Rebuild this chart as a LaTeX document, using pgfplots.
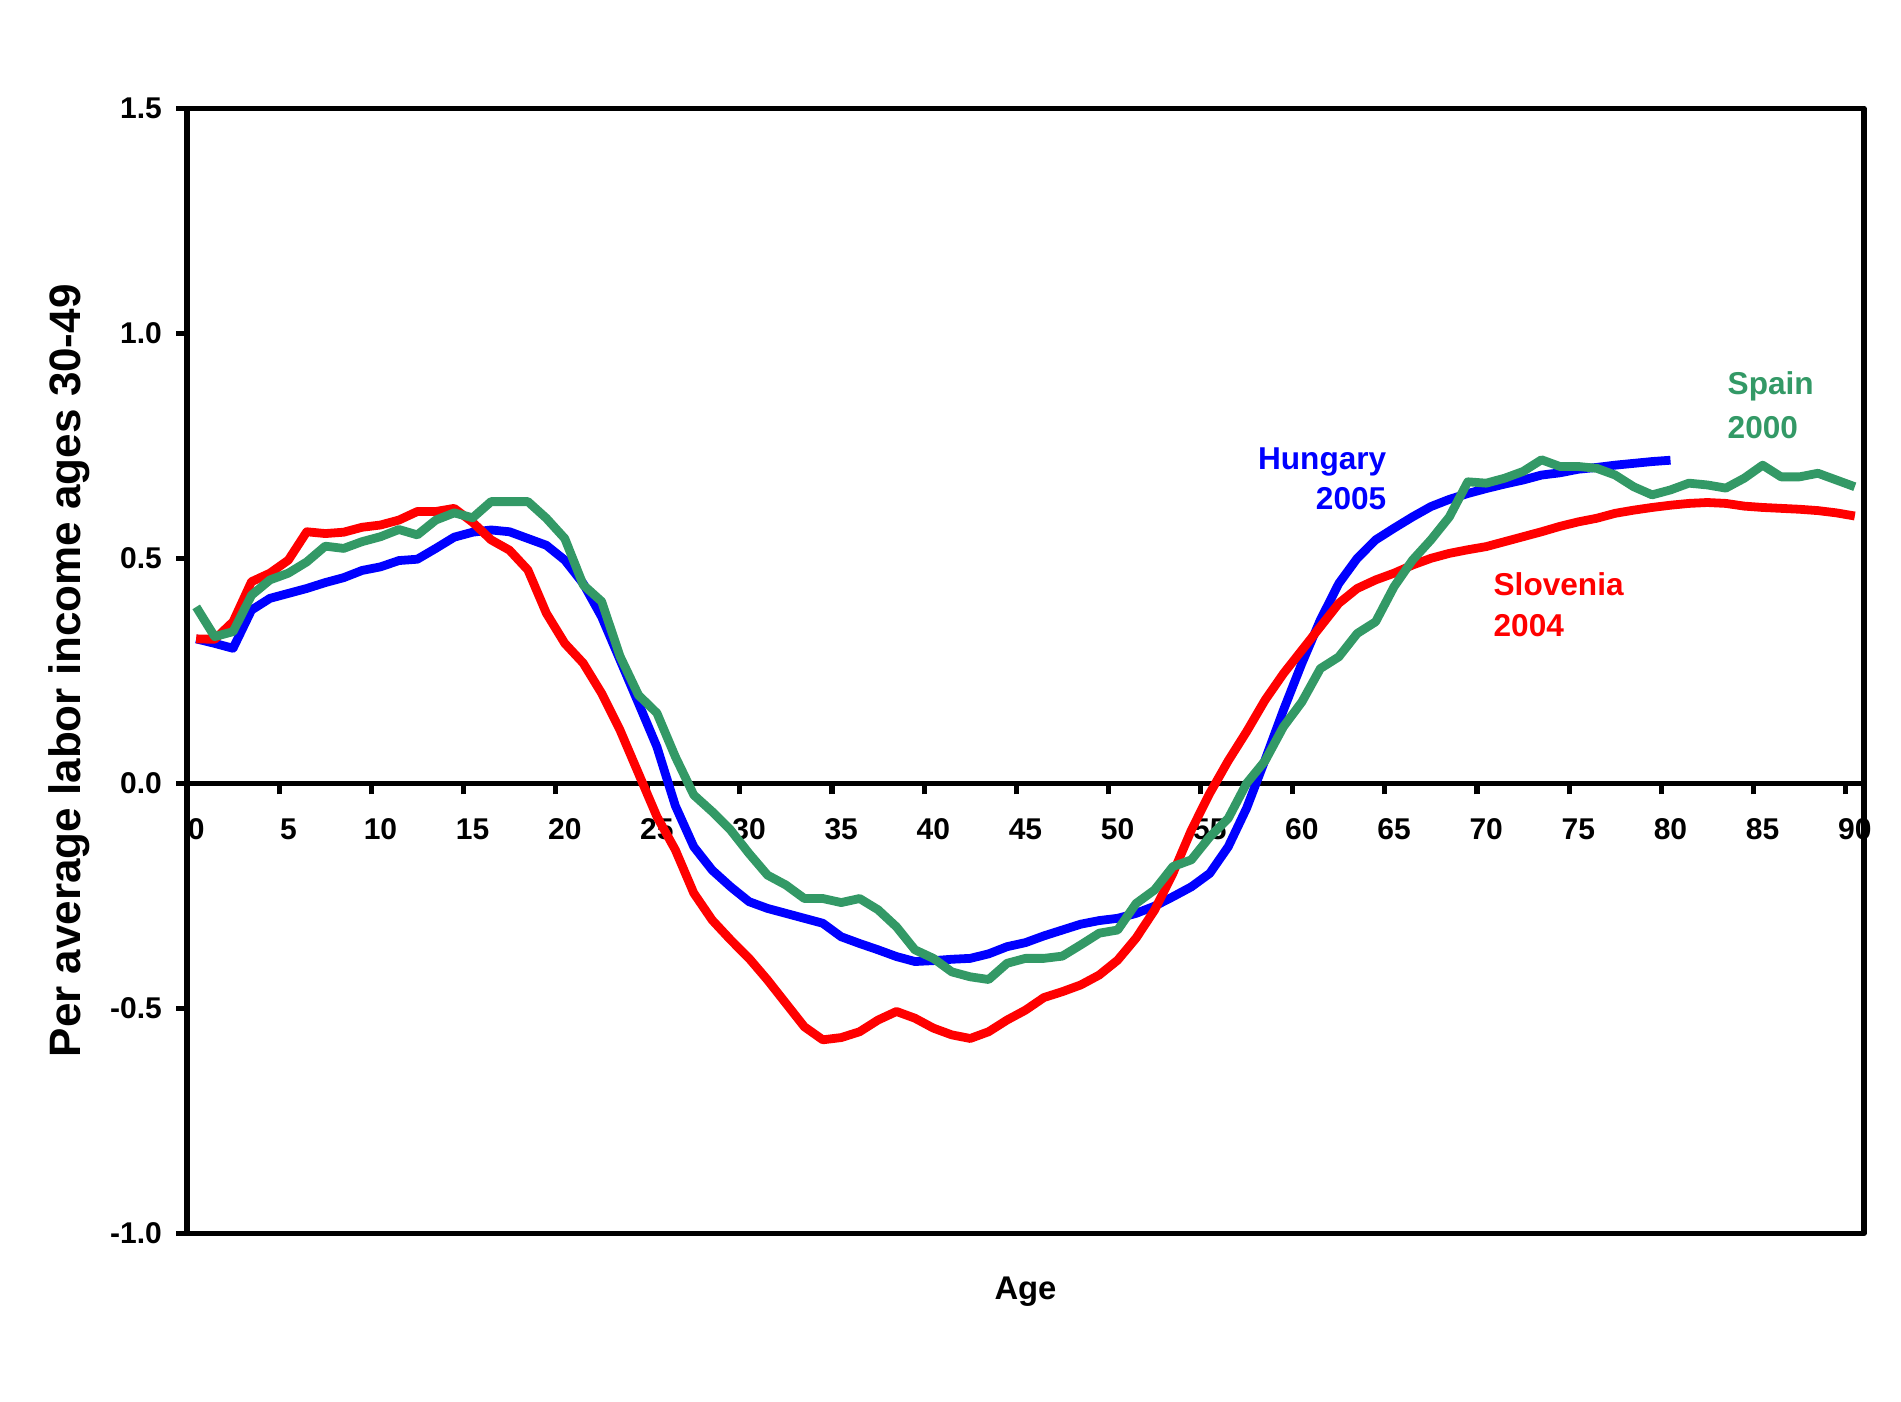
\documentclass[border=0pt]{standalone}
\usepackage{pgfplots}
\pgfplotsset{compat=1.18}
\usepackage{fontspec}
\setmainfont{Liberation Sans}
\definecolor{hun}{RGB}{0,0,255}
\definecolor{slo}{RGB}{255,0,0}
\definecolor{spa}{RGB}{51,153,102}

\pgfplotstableread{
age val
0 0.321
1 0.311
2 0.300
3 0.385
4 0.411
5 0.422
6 0.433
7 0.446
8 0.457
9 0.473
10 0.481
11 0.495
12 0.498
13 0.522
14 0.547
15 0.558
16 0.563
17 0.559
18 0.544
19 0.529
20 0.496
21 0.444
22 0.370
23 0.274
24 0.178
25 0.081
26 -0.050
27 -0.141
28 -0.193
29 -0.230
30 -0.263
31 -0.278
32 -0.289
33 -0.300
34 -0.311
35 -0.341
36 -0.356
37 -0.370
38 -0.385
39 -0.396
40 -0.394
41 -0.391
42 -0.389
43 -0.379
44 -0.363
45 -0.354
46 -0.339
47 -0.326
48 -0.313
49 -0.305
50 -0.300
51 -0.289
52 -0.273
53 -0.252
54 -0.230
55 -0.200
56 -0.141
57 -0.055
58 0.052
59 0.163
60 0.267
61 0.363
62 0.444
63 0.500
64 0.541
65 0.567
66 0.592
67 0.615
68 0.631
69 0.644
70 0.655
71 0.665
72 0.674
73 0.685
74 0.690
75 0.698
76 0.702
77 0.707
78 0.711
79 0.715
80 0.718
}\hungary

\pgfplotstableread{
age val
0 0.321
1 0.320
2 0.359
3 0.448
4 0.467
5 0.496
6 0.559
7 0.555
8 0.558
9 0.569
10 0.574
11 0.585
12 0.604
13 0.604
14 0.611
15 0.580
16 0.541
17 0.518
18 0.474
19 0.378
20 0.311
21 0.267
22 0.200
23 0.118
24 0.022
25 -0.074
26 -0.148
27 -0.244
28 -0.304
29 -0.348
30 -0.389
31 -0.437
32 -0.489
33 -0.541
34 -0.570
35 -0.565
36 -0.552
37 -0.526
38 -0.507
39 -0.522
40 -0.544
41 -0.559
42 -0.567
43 -0.552
44 -0.526
45 -0.504
46 -0.476
47 -0.463
48 -0.448
49 -0.426
50 -0.393
51 -0.344
52 -0.282
53 -0.200
54 -0.104
55 -0.022
56 0.050
57 0.115
58 0.185
59 0.244
60 0.296
61 0.348
62 0.400
63 0.433
64 0.452
65 0.467
66 0.485
67 0.500
68 0.511
69 0.519
70 0.526
71 0.537
72 0.548
73 0.559
74 0.571
75 0.581
76 0.589
77 0.600
78 0.607
79 0.613
80 0.618
81 0.622
82 0.624
83 0.622
84 0.616
85 0.613
86 0.611
87 0.609
88 0.606
89 0.601
90 0.594
}\slovenia

\pgfplotstableread{
age val
0 0.392
1 0.326
2 0.337
3 0.418
4 0.452
5 0.467
6 0.492
7 0.527
8 0.522
9 0.537
10 0.548
11 0.564
12 0.552
13 0.585
14 0.601
15 0.590
16 0.626
17 0.626
18 0.626
19 0.589
20 0.544
21 0.441
22 0.404
23 0.282
24 0.196
25 0.156
26 0.059
27 -0.026
28 -0.063
29 -0.104
30 -0.156
31 -0.204
32 -0.226
33 -0.256
34 -0.256
35 -0.265
36 -0.256
37 -0.281
38 -0.319
39 -0.370
40 -0.389
41 -0.419
42 -0.430
43 -0.436
44 -0.400
45 -0.389
46 -0.389
47 -0.384
48 -0.359
49 -0.333
50 -0.326
51 -0.267
52 -0.237
53 -0.185
54 -0.170
55 -0.119
56 -0.078
57 0.000
58 0.050
59 0.126
60 0.181
61 0.255
62 0.281
63 0.333
64 0.359
65 0.437
66 0.496
67 0.541
68 0.592
69 0.670
70 0.667
71 0.678
72 0.693
73 0.719
74 0.704
75 0.704
76 0.700
77 0.685
78 0.659
79 0.641
80 0.652
81 0.667
82 0.663
83 0.656
84 0.678
85 0.707
86 0.681
87 0.681
88 0.689
89 0.674
90 0.659
}\spain

\begin{document}
\begin{tikzpicture}
\path[use as bounding box] (-46.75pt,-41.92pt) rectangle (428.5pt,308.33pt);
\begin{axis}[
  at={(0pt,0pt)}, anchor=south west,
  scale only axis, width=419.25pt, height=281.25pt,
  xmin=-0.5, xmax=90.5, ymin=-1, ymax=1.5,
  axis x line*=middle, axis y line*=left,
  hide obscured x ticks=false,
  axis line style={line width=1.3pt, black},
  tick align=outside,
  major tick length=2.75pt,
  tick style={line width=1.3pt, black},
  xtick={-0.5,4.5,9.5,14.5,19.5,24.5,29.5,34.5,39.5,44.5,49.5,54.5,59.5,64.5,69.5,74.5,79.5,84.5,89.5},
  xticklabels={0,5,10,15,20,25,30,35,40,45,50,55,60,65,70,75,80,85,90},
  xticklabel style={xshift=2.3pt, yshift=-2.5pt, font=\bfseries\fontsize{7.5}{9}\selectfont},
  ytick={-1,-0.5,0,0.5,1,1.5},
  yticklabels={-1.0,-0.5,0.0,0.5,1.0,1.5},
  yticklabel style={font=\bfseries\fontsize{7.5}{9}\selectfont},
  clip=false,
  line join=round,
]
\addplot[hun, line width=2.2pt, no markers] table[x=age, y=val] {\hungary};
\addplot[slo, line width=2.2pt, no markers] table[x=age, y=val] {\slovenia};
\addplot[spa, line width=2.2pt, no markers] table[x=age, y=val] {\spain};
\draw[line width=1.3pt, black] (rel axis cs:0,0) rectangle (rel axis cs:1,1);
\node[rotate=90, font=\bfseries\fontsize{11}{13}\selectfont] at (axis description cs:-0.0704,0.5) {Per average labor income ages 30-49};
\node[font=\bfseries\fontsize{8.2}{10}\selectfont] at (axis description cs:0.5,-0.052) {Age};
\node[anchor=base east, inner sep=0pt, text=hun, font=\bfseries\fontsize{7.9}{9}\selectfont] at (axis cs:64.62,0.698) {Hungary};
\node[anchor=base east, inner sep=0pt, text=hun, font=\bfseries\fontsize{7.9}{9}\selectfont] at (axis cs:64.62,0.609) {2005};
\node[anchor=base west, inner sep=0pt, text=slo, font=\bfseries\fontsize{7.9}{9}\selectfont] at (axis cs:70.36,0.418) {Slovenia};
\node[anchor=base west, inner sep=0pt, text=slo, font=\bfseries\fontsize{7.9}{9}\selectfont] at (axis cs:70.36,0.326) {2004};
\node[anchor=base west, inner sep=0pt, text=spa, font=\bfseries\fontsize{7.9}{9}\selectfont] at (axis cs:83.06,0.863) {Spain};
\node[anchor=base west, inner sep=0pt, text=spa, font=\bfseries\fontsize{7.9}{9}\selectfont] at (axis cs:83.06,0.767) {2000};
\end{axis}
\end{tikzpicture}
\end{document}
